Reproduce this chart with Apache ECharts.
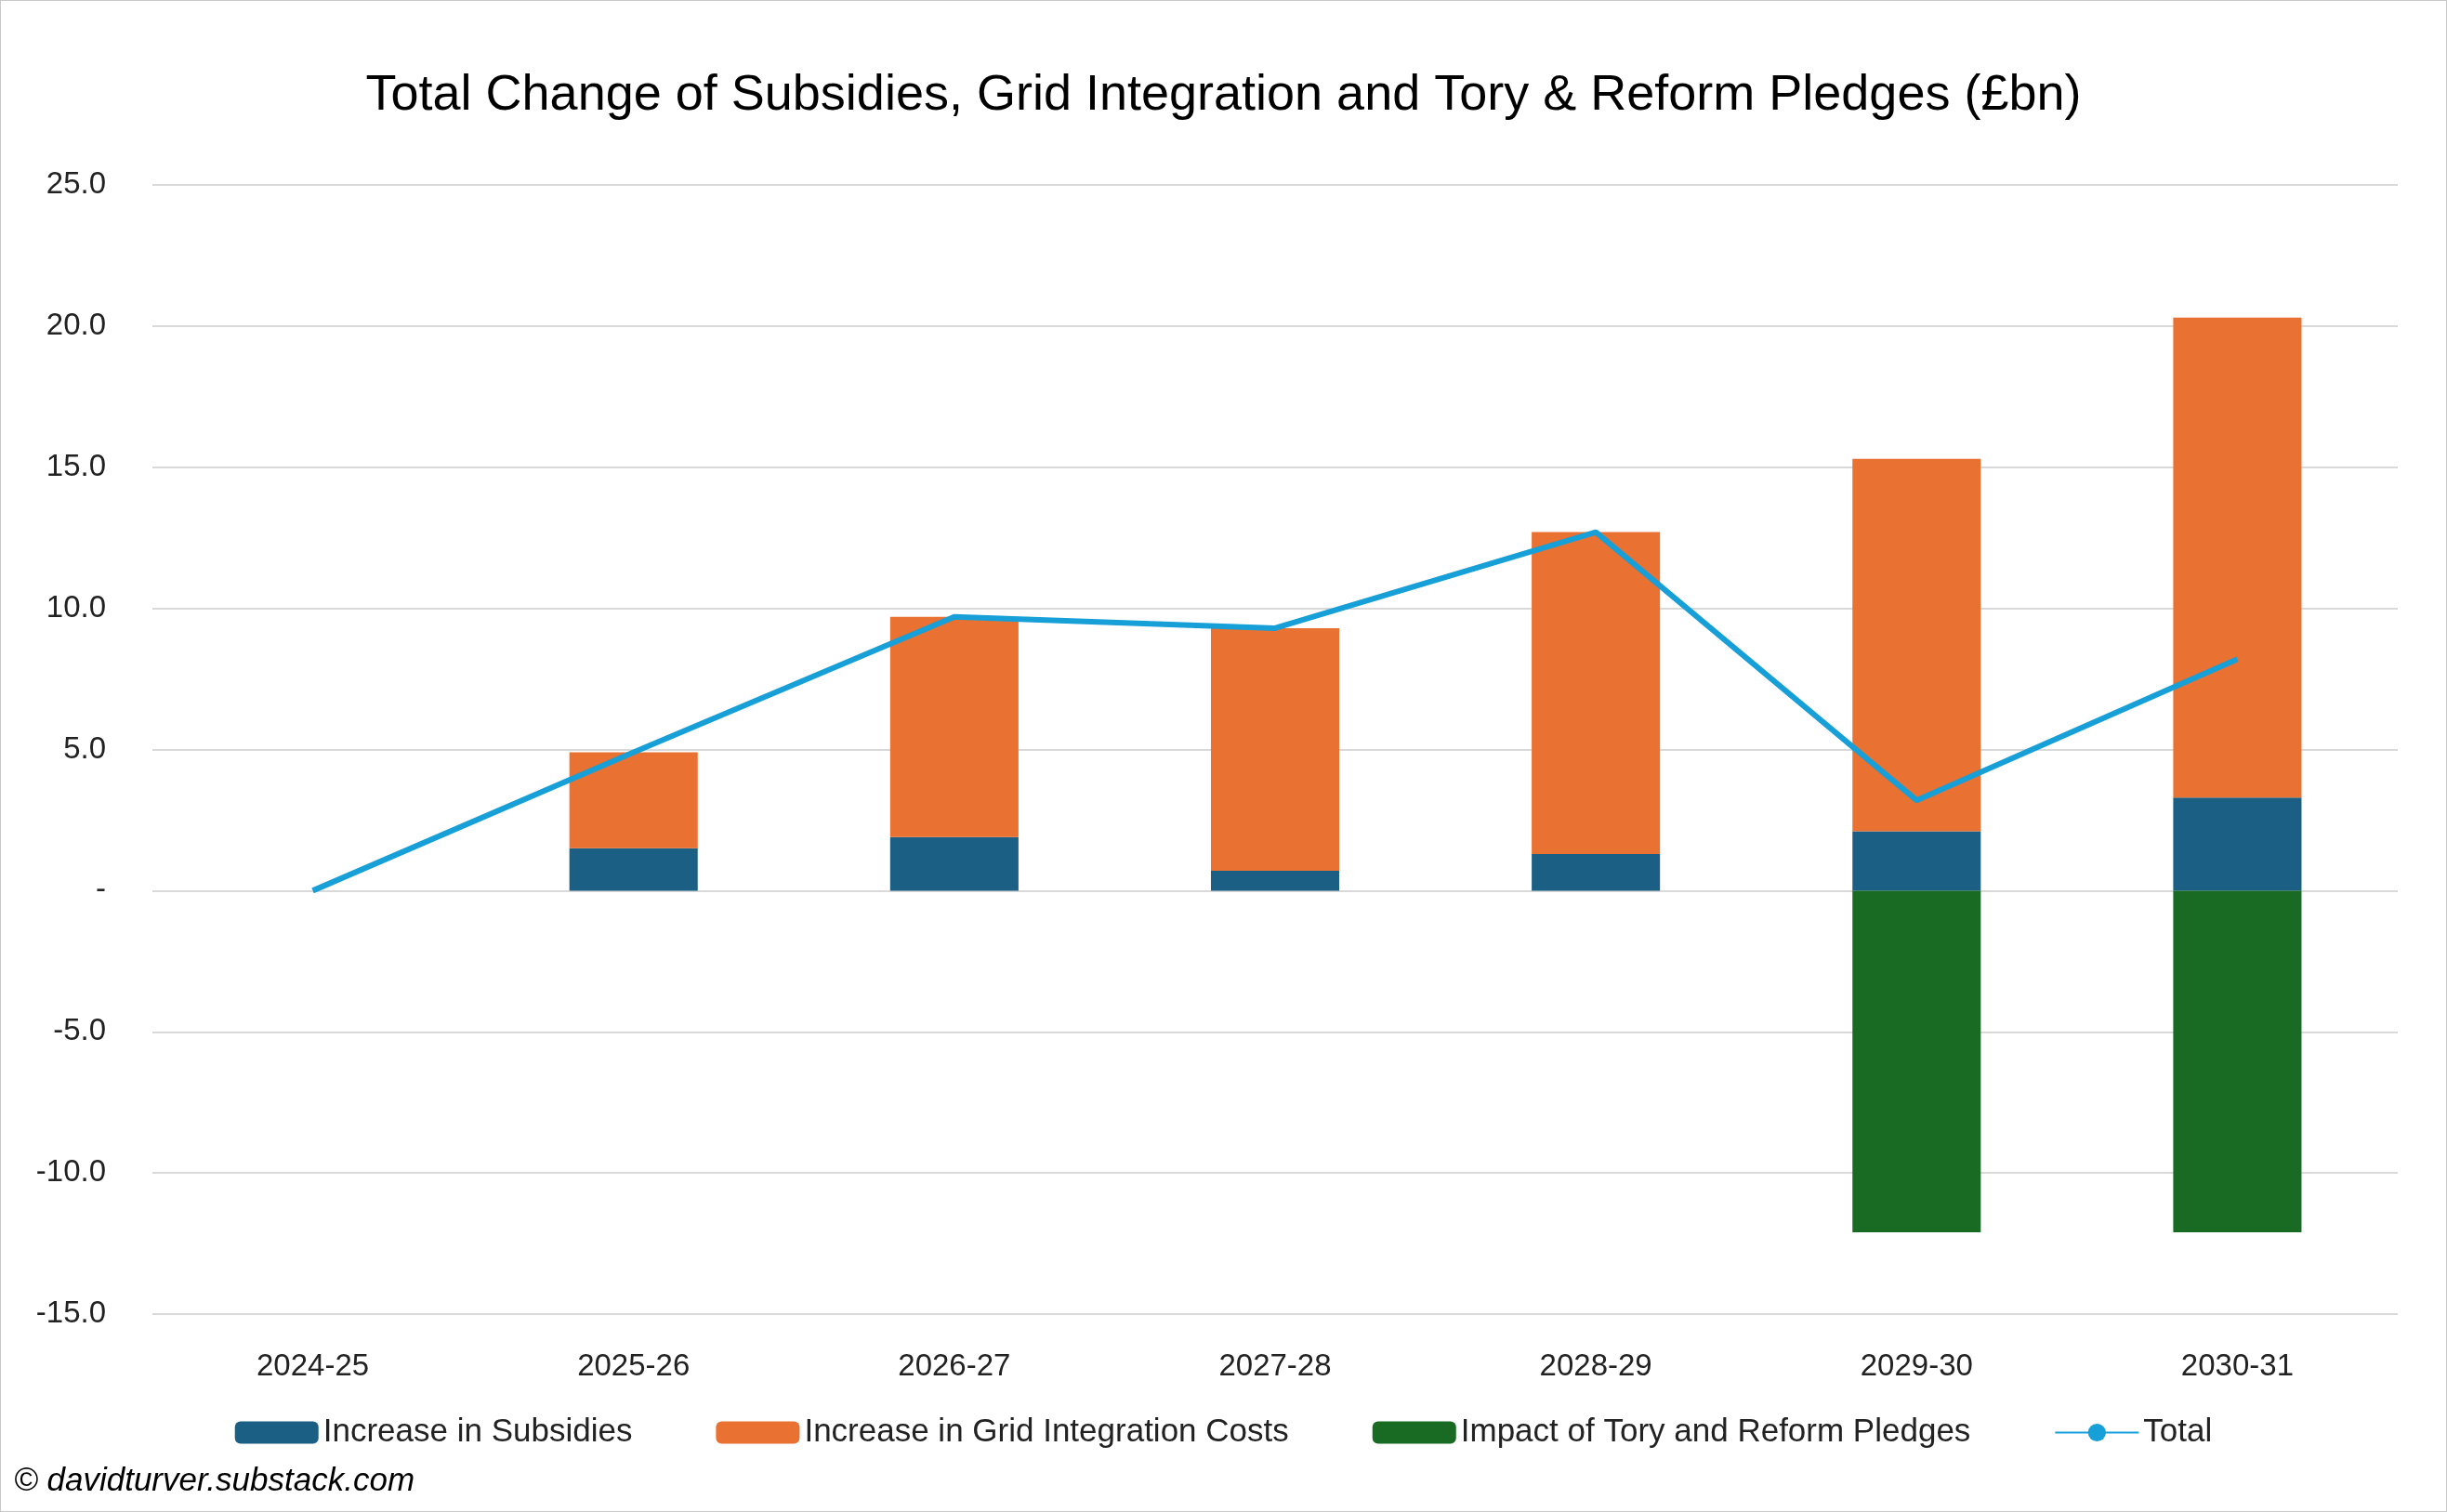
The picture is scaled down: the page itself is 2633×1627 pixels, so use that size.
<!DOCTYPE html>
<html>
<head>
<meta charset="utf-8">
<script src="https://cdn.jsdelivr.net/npm/echarts@6/dist/echarts.min.js"></script>
<style>
  html, body { margin: 0; padding: 0; background: #fff; }
  #main { width: 2631px; height: 1625px; border: 1px solid #c8c8c8; }
</style>
</head>
<body>
<div id="main"></div>
<script>
// 数据
var years = ['2024-25', '2025-26', '2026-27', '2027-28', '2028-29', '2029-30', '2030-31'];
var subsidies = [0, 1.5, 1.9, 0.7, 1.3, 2.1, 3.3];
var gridCosts = [0, 3.4, 7.8, 8.6, 11.4, 13.2, 17.0];
var pledges = [0, 0, 0, 0, 0, -12.1, -12.1];
var totals = [0, 4.9, 9.7, 9.3, 12.7, 3.2, 8.2];

var font = 'Liberation Sans';
var fmt = function (v) { return v === 0 ? '-' : v.toFixed(1); };

var chart = echarts.init(document.getElementById('main'));
chart.setOption({
  textStyle: { fontFamily: font },
  title: {
    text: 'Total Change of Subsidies, Grid Integration and Tory & Reform Pledges (£bn)',
    left: 'center', top: 70,
    textStyle: { fontSize: 54, fontWeight: 'normal', color: '#000', fontFamily: font }
  },
  legend: {
    bottom: 62, itemGap: 90, itemWidth: 90, itemHeight: 24,
    textStyle: { fontSize: 35, color: '#222' },
    data: ['Increase in Subsidies', 'Increase in Grid Integration Costs', 'Impact of Tory and Reform Pledges', 'Total']
  },
  graphic: [{
    type: 'text', left: 14, bottom: 14,
    style: { text: '© davidturver.substack.com', font: 'italic 35px ' + font, fill: '#000' }
  }],
  grid: { left: 163, right: 52, top: 198, bottom: 212 },
  xAxis: {
    type: 'category', data: years,
    axisLine: { show: false }, axisTick: { show: false },
    axisLabel: { fontSize: 33, color: '#222', margin: 40 }
  },
  yAxis: {
    type: 'value', min: -15, max: 25, interval: 5,
    axisLabel: { fontSize: 33, color: '#222', formatter: fmt, margin: 50 },
    splitLine: { lineStyle: { color: '#d9d9d9', width: 2 } }
  },
  series: [
    { name: 'Increase in Subsidies', type: 'bar', stack: 's', barWidth: '40%',
      itemStyle: { color: '#1b5f84' }, data: subsidies },
    { name: 'Increase in Grid Integration Costs', type: 'bar', stack: 's',
      itemStyle: { color: '#e97132' }, data: gridCosts },
    { name: 'Impact of Tory and Reform Pledges', type: 'bar', stack: 's',
      itemStyle: { color: '#196b24' }, data: pledges },
    { name: 'Total', type: 'line', symbol: 'none',
      lineStyle: { color: '#179fd8', width: 6 }, itemStyle: { color: '#179fd8' },
      data: totals.map(function (v, i) {
        var boxed = i >= 5;
        return { value: v, label: {
          show: true, position: 'top', distance: boxed ? 18 : 40,
          formatter: function (p) { return fmt(p.value); },
          fontSize: 33, color: '#111',
          backgroundColor: boxed ? '#fff' : 'transparent',
          padding: boxed ? [10, 14] : 0
        } };
      })
    }
  ]
});
</script>
</body>
</html>
